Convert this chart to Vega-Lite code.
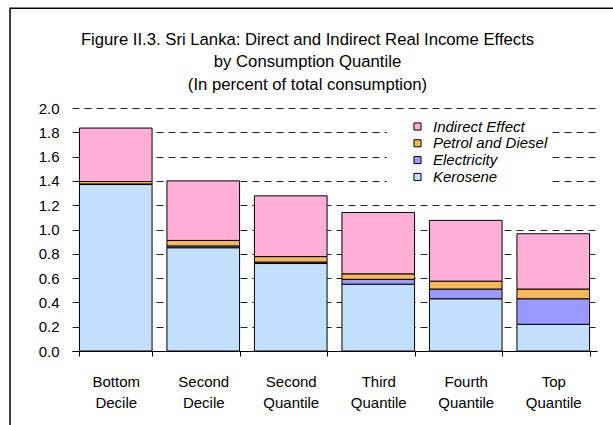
{
  "$schema": "https://vega.github.io/schema/vega-lite/v6.json",
  "width": 525,
  "height": 243,
  "autosize": {"type": "none"},
  "padding": {"left": 72, "top": 108, "right": 16, "bottom": 74},
  "background": "white",
  "config": {"view": {"stroke": null}, "font": "Liberation Sans"},
  "title": {
    "text": ["Figure II.3. Sri Lanka: Direct and Indirect Real Income Effects", "by Consumption Quantile", "(In percent of total consumption)"],
    "fontSize": 16.7,
    "fontWeight": "normal",
    "font": "Liberation Sans",
    "color": "black",
    "lineHeight": 22.5,
    "anchor": "middle",
    "dx": -27,
    "offset": -86
  },
  "layer": [
    {
      "data": {"values": [
        {"group": "Bottom Decile", "series": "Kerosene", "value": 1.37},
        {"group": "Bottom Decile", "series": "Electricity", "value": 0.005},
        {"group": "Bottom Decile", "series": "Petrol and Diesel", "value": 0.02},
        {"group": "Bottom Decile", "series": "Indirect Effect", "value": 0.44},
        {"group": "Second Decile", "series": "Kerosene", "value": 0.85},
        {"group": "Second Decile", "series": "Electricity", "value": 0.015},
        {"group": "Second Decile", "series": "Petrol and Diesel", "value": 0.045},
        {"group": "Second Decile", "series": "Indirect Effect", "value": 0.49},
        {"group": "Second Quantile", "series": "Kerosene", "value": 0.72},
        {"group": "Second Quantile", "series": "Electricity", "value": 0.012},
        {"group": "Second Quantile", "series": "Petrol and Diesel", "value": 0.045},
        {"group": "Second Quantile", "series": "Indirect Effect", "value": 0.5},
        {"group": "Third Quantile", "series": "Kerosene", "value": 0.55},
        {"group": "Third Quantile", "series": "Electricity", "value": 0.04},
        {"group": "Third Quantile", "series": "Petrol and Diesel", "value": 0.045},
        {"group": "Third Quantile", "series": "Indirect Effect", "value": 0.505},
        {"group": "Fourth Quantile", "series": "Kerosene", "value": 0.43},
        {"group": "Fourth Quantile", "series": "Electricity", "value": 0.08},
        {"group": "Fourth Quantile", "series": "Petrol and Diesel", "value": 0.065},
        {"group": "Fourth Quantile", "series": "Indirect Effect", "value": 0.5},
        {"group": "Top Quantile", "series": "Kerosene", "value": 0.22},
        {"group": "Top Quantile", "series": "Electricity", "value": 0.21},
        {"group": "Top Quantile", "series": "Petrol and Diesel", "value": 0.08},
        {"group": "Top Quantile", "series": "Indirect Effect", "value": 0.455}
      ]},
      "transform": [
        {"calculate": "indexof(['Kerosene','Electricity','Petrol and Diesel','Indirect Effect'], datum.series)", "as": "ord"}
      ],
      "mark": {"type": "bar", "stroke": "black", "strokeWidth": 1},
      "encoding": {
        "x": {
          "field": "group",
          "type": "nominal",
          "sort": ["Bottom Decile", "Second Decile", "Second Quantile", "Third Quantile", "Fourth Quantile", "Top Quantile"],
          "scale": {"paddingInner": 0.17, "paddingOuter": 0.085},
          "axis": {
            "title": null,
            "labelAngle": 0,
            "labelExpr": "split(datum.label, ' ')",
            "labelFontSize": 15,
            "labelLineHeight": 21,
            "labelColor": "black",
            "domainColor": "black",
            "domainWidth": 1,
            "tickColor": "black",
            "tickSize": 5,
            "tickBand": "extent",
            "labelPadding": 18
          }
        },
        "y": {
          "field": "value",
          "type": "quantitative",
          "stack": "zero",
          "scale": {"domain": [0, 2], "nice": false},
          "axis": {
            "title": null,
            "values": [0, 0.2, 0.4, 0.6, 0.8, 1.0, 1.2, 1.4, 1.6, 1.8, 2.0],
            "format": ".1f",
            "grid": true,
            "gridDash": [7, 5],
            "gridColor": "#222222",
            "gridWidth": 1,
            "domain": false,
            "ticks": false,
            "labelOverlap": false,
            "labelFontSize": 15,
            "labelColor": "black",
            "labelPadding": 13
          }
        },
        "color": {
          "field": "series",
          "type": "nominal",
          "scale": {
            "domain": ["Indirect Effect", "Petrol and Diesel", "Electricity", "Kerosene"],
            "range": ["#ffafd7", "#f5b857", "#9999ff", "#c2e0fd"]
          },
          "legend": {
            "orient": "none",
            "legendX": 315,
            "legendY": 8,
            "title": null,
            "fillColor": "white",
            "padding": 3,
            "symbolType": "square",
            "symbolSize": 50,
            "symbolStrokeColor": "black",
            "symbolStrokeWidth": 1,
            "symbolOffset": 20,
            "labelFontSize": 15,
            "labelFontStyle": "italic",
            "labelColor": "black",
            "labelOffset": 8,
            "labelLimit": 160,
            "rowPadding": 0.8
          }
        },
        "order": {"field": "ord", "type": "quantitative"}
      }
    },
    {
      "data": {"values": [{}]},
      "mark": {"type": "rect", "fill": "white", "fillOpacity": 0, "stroke": "black", "strokeWidth": 1.5},
      "encoding": {
        "x": {"datum": -0.118, "type": "quantitative", "scale": {"domain": [0, 1]}, "axis": null},
        "x2": {"datum": 1.2},
        "y": {"datum": 2.82, "type": "quantitative", "scale": {"domain": [0, 2], "nice": false}, "axis": null},
        "y2": {"datum": -1}
      }
    }
  ],
  "resolve": {
    "scale": {"x": "independent", "y": "independent"},
    "axis": {"x": "independent", "y": "independent"}
  }
}
